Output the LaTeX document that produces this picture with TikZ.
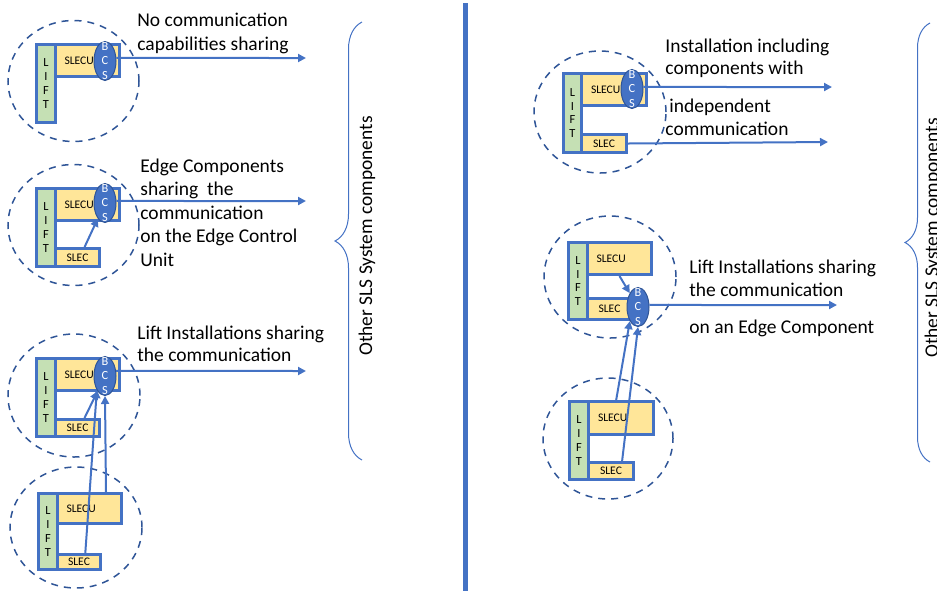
\documentclass[tikz,border=0pt]{standalone}
\usepackage{fontspec}
\setmainfont{Carlito}
\usetikzlibrary{shapes.geometric,arrows.meta,decorations.pathreplacing}
\definecolor{bblue}{HTML}{4472C4}
\definecolor{dblue}{HTML}{2F5597}
\definecolor{slyellow}{HTML}{FFE699}
\definecolor{lgreen}{HTML}{C5E0B4}

\begin{document}
\begin{tikzpicture}[x=0.5pt,y=-0.5pt,
  ring/.style={ellipse,draw=dblue,line width=0.75pt,dash pattern=on 3.5pt off 3pt,minimum width=65.5pt,minimum height=60.5pt,inner sep=0pt},
  lift/.style={rectangle,draw=bblue,fill=lgreen,line width=1.5pt,anchor=north west,minimum width=9.5pt,minimum height=39pt,inner sep=0pt,align=center,font=\fontsize{6.2}{6.9}\selectfont},
  slecu/.style={rectangle,draw=bblue,fill=slyellow,line width=1.5pt,anchor=north west,minimum width=32pt,minimum height=16pt,inner xsep=4.5pt,inner ysep=0pt,text width=23pt,align=left,font=\fontsize{5.8}{6.9}\selectfont},
  slec/.style={rectangle,draw=bblue,fill=slyellow,line width=1.5pt,anchor=north west,minimum width=22pt,minimum height=9pt,inner sep=0pt,font=\fontsize{5.8}{6.9}\selectfont},
  bcs/.style={ellipse,draw=dblue,fill=bblue,line width=0.5pt,minimum width=11pt,minimum height=19.5pt,inner sep=0pt,
    label={[text=white,align=center,font=\fontsize{6.2}{7.3}\selectfont]center:B\\C\\S}},
  arr/.style={draw=bblue,line width=1pt,-{Triangle[length=4pt,width=4pt]}},
  desc/.style={anchor=base west,align=left,inner sep=0pt,font=\fontsize{9.75}{12}\selectfont},
  brc/.style={draw=bblue,line width=0.5pt,decorate,decoration={brace,amplitude=13.5pt}},
  other/.style={rotate=90,inner sep=0pt,font=\fontsize{9.7}{12}\selectfont}]
\useasboundingbox (0,0) rectangle (937,591);

% left half
\node[ring] (ring1) at (73.5,81) {};
\node[slecu] (slecu1) at (54,43) {SLECU};
\node[lift] (lift1) at (35,43) {L\\I\\F\\T};
\node[bcs] (bcs1) at (105,61) {};
\coordinate (out1) at (306,58);
\draw[arr] (bcs1.15) -- (out1);
\node[desc] (txt1) at (137,50) {No communication\\capabilities sharing};

\node[ring] (ring2) at (73.5,225) {};
\node[slecu] (slecu2) at (54,187) {SLECU};
\node[slec] (slec2) at (54,247) {SLEC};
\node[lift] (lift2) at (35,187) {L\\I\\F\\T};
\node[bcs] (bcs2) at (105,203) {};
\coordinate (out2) at (306,201);
\draw[arr] (slec2.56) -- (bcs2);
\draw[arr] (bcs2.10) -- (out2);
\node[desc,font=\fontsize{9.75}{11.75}\selectfont] (txt2) at (140,266) {Edge Components\\sharing\ \ the\\communication\\on the Edge Control\\Unit};

\node[ring,minimum width=66pt,minimum height=61.5pt] (ring3) at (74,395.5) {};
\node[slecu] (slecu3) at (54,357) {SLECU};
\node[slec,minimum height=8.5pt] (slec3) at (54,418) {SLEC};
\node[lift] (lift3) at (35,357) {L\\I\\F\\T};
\node[bcs] (bcs3) at (105,376) {};
\coordinate (out3) at (306,371);
\draw[arr] (slec3.55) -- (bcs3);
\draw[arr] (bcs3.25) -- (out3);
\node[desc,font=\fontsize{9.75}{11}\selectfont] (txt3) at (137,361) {Lift Installations sharing\\the communication};

\node[ring,minimum width=66pt] (ring4) at (76,527.5) {};
\node[slecu,minimum height=15pt] (slecu4) at (56,492) {SLECU};
\node[slec,minimum width=21.5pt,minimum height=7.5pt] (slec4) at (56,553) {SLEC};
\node[lift,minimum height=38pt] (lift4) at (37,492) {L\\I\\F\\T};
\draw[arr] (slecu4.45) -- (bcs3.south);
\draw[arr] (slec4.55) -- (bcs3.240);

\draw[brc] (362,460) -- (362,22);
\node[other] (other1) at (367,236) {Other SLS System components};

\draw[bblue,line width=2.5pt] (465.5,3) -- (465.5,591);

% right half
\node[ring,minimum width=66pt,minimum height=61pt] (ringr1) at (600,112) {};
\node[slecu,minimum width=32.5pt] (slecur1) at (580,72) {SLECU};
\node[slec,minimum width=22.5pt] (slecr1) at (580,133) {SLEC};
\node[lift,minimum width=9pt,minimum height=39.5pt] (liftr1) at (562,72) {L\\I\\F\\T};
\node[bcs] (bcsr1) at (632,89) {};
\coordinate (outr1) at (832,87);
\coordinate (outr1b) at (828,142);
\draw[arr] (bcsr1.10) -- (outr1);
\draw[arr] (slecr1.east) -- (outr1b);
\node[desc,font=\fontsize{9.75}{11}\selectfont] (txtr1) at (665,74) {Installation including\\components with};
\node[desc,font=\fontsize{9.75}{11.5}\selectfont] (txtr1b) at (665,135) {\hspace{2pt}independent\\communication};

\node[ring,minimum width=66pt,minimum height=61pt] (ringr2) at (610,277) {};
\node[slecu] (slecur2) at (586,241) {SLECU};
\node[slec,minimum height=10.5pt] (slecr2) at (586,297) {SLEC};
\node[lift,minimum height=38.5pt] (liftr2) at (567,241) {L\\I\\F\\T};
\node[bcs] (bcsr2) at (638,307) {};
\coordinate (outr2) at (837,305);
\draw[arr] (slecur2.south) -- (bcsr2);
\draw[arr] (bcsr2.10) -- (outr2);
\node[desc,font=\fontsize{9.75}{11.5}\selectfont] (txtr2) at (689,333) {Lift Installations sharing\\the communication\\[7pt]on an Edge Component};

\node[ring,minimum width=65pt] (ringr3) at (608,438.5) {};
\node[slecu,minimum width=32.5pt,minimum height=16.5pt] (slecur3) at (587,400) {SLECU};
\node[slec,minimum width=22.5pt,minimum height=8.5pt] (slecr3) at (587,461) {SLEC};
\node[lift] (liftr3) at (568,400) {L\\I\\F\\T};
\draw[arr] (slecur3.105) -- (bcsr2.240);
\draw[arr] (slecr3.42) -- (bcsr2.south);

\draw[brc,decoration={brace,amplitude=12.5pt}] (930,462) -- (930,23);
\node[other] (other2) at (933,238) {Other SLS System components};
\end{tikzpicture}
\end{document}
